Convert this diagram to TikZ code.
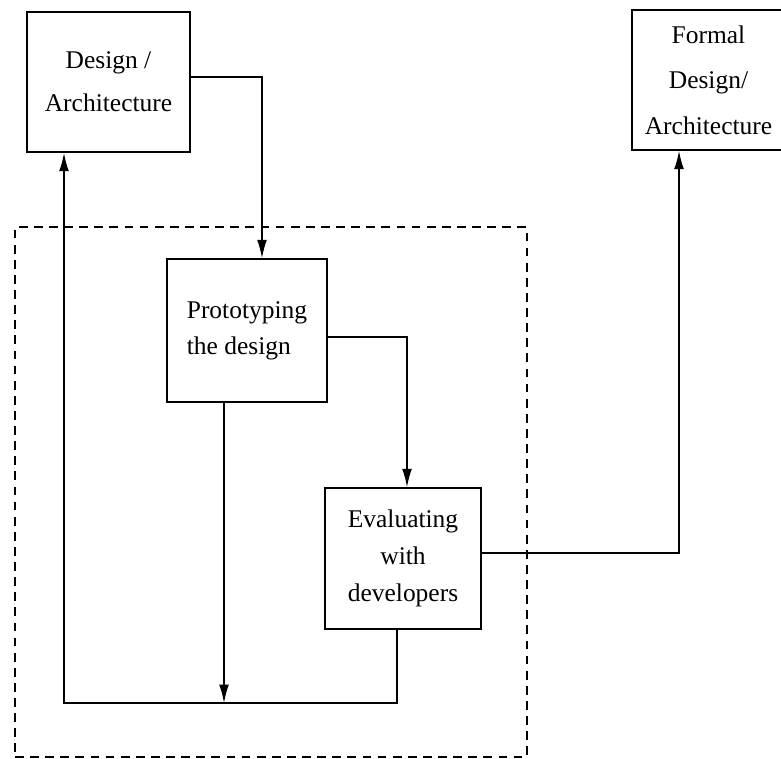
\documentclass[tikz,border=0pt]{standalone}
\usepackage{fontspec}
\setmainfont{Liberation Serif}
\usetikzlibrary{arrows.meta}
\begin{document}
\begin{tikzpicture}[x=0.02cm, y=-0.02cm,
  box/.style={draw, line width=0.85pt, rectangle, inner sep=0pt},
  lbl/.style={font=\fontsize{14.5}{#1}\selectfont},
  arr/.style={draw, line width=0.85pt, -{Latex[length=10.5pt,width=5.6pt]}},
  groupbox/.style={draw, line width=1pt, dash pattern=on 5pt off 3.6pt, rectangle, inner sep=0pt}]
\useasboundingbox (0,0) rectangle (781,759);
\clip (0,0) rectangle (781,759);

% outer dashed group
\node[groupbox, minimum width=10.24cm, minimum height=10.6cm] (group) at (271,492) {};

% process boxes
\node[box, minimum width=3.26cm, minimum height=2.8cm, align=center, lbl=24.4pt] (design) at (108.5,82)
  {Design /\\Architecture};
\node[box, minimum width=3.06cm, minimum height=2.8cm, align=center, lbl=25.8pt] (formal) at (708.5,80)
  {Formal\\Design/\\Architecture};
\node[box, minimum width=3.2cm, minimum height=2.86cm, align=left, lbl=20.5pt] (proto) at (247,330.5)
  {Prototyping\\the design};
\node[box, minimum width=3.12cm, minimum height=2.82cm, align=center, lbl=21pt] (eval) at (403,558.5)
  {Evaluating\\with\\developers};

% corner of the feedback line
\coordinate (bl) at (64,703);

% connectors
\draw[arr] ([yshift=0.1cm]design.east) -| ([xshift=0.3cm]proto.north);
\draw[arr] ([yshift=-0.13cm]proto.east) -| ([xshift=0.08cm]eval.north);
\draw[arr] ([xshift=-0.46cm]proto.south) -- ([xshift=-0.46cm]proto.south |- bl);
\draw[arr, line width=1pt] ([xshift=-0.12cm]eval.south) |- (bl) -- ([xshift=-0.89cm]design.south);
\draw[arr] ([yshift=0.11cm]eval.east) -| ([xshift=-0.59cm]formal.south);
\end{tikzpicture}
\end{document}
